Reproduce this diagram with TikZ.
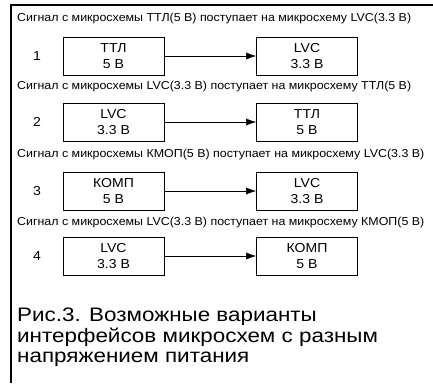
\documentclass[tikz,border=0pt]{standalone}
\usepackage{fontspec}
\setmainfont{Liberation Sans}
\newfontfamily\widefont[FakeStretch=1.08]{Liberation Sans}
\newfontfamily\capfont[FakeStretch=1.15]{Liberation Sans}
\usetikzlibrary{arrows.meta}

\begin{document}
\begin{tikzpicture}[x=1pt, y=1pt, >={Latex[length=10pt,width=7pt]},
  chip/.style={draw, line width=0.8pt, minimum width=101pt, minimum height=38pt,
    inner sep=0pt, align=center, font=\widefont\fontsize{13}{15.5}\selectfont},
  head/.style={anchor=west, inner sep=0pt, font=\widefont\fontsize{11.5}{13}\selectfont},
  num/.style={font=\widefont\fontsize{13}{15}\selectfont}]

\useasboundingbox (0,0) rectangle (433,-383);
\draw[line width=2pt] (11,-383) -- (11,-5) -- (433,-5);

\node[head] (t1) at (17,-19) {Сигнал с микросхемы ТТЛ(5 В) поступает на микросхему LVC(3.3 В)};
\node[num] (k1) at (37,-56) {1};
\node[chip] (a1) at (113.5,-56) {ТТЛ\\5 В};
\node[chip] (b1) at (307,-56) {LVC\\3.3 В};

\node[head] (t2) at (17,-87) {Сигнал с микросхемы LVC(3.3 В) поступает на микросхему ТТЛ(5 В)};
\node[num] (k2) at (37,-122) {2};
\node[chip] (a2) at (113.5,-122) {LVC\\3.3 В};
\node[chip] (b2) at (307,-122) {ТТЛ\\5 В};

\node[head] (t3) at (17,-155) {Сигнал с микросхемы КМОП(5 В) поступает на микросхему LVC(3.3 В)};
\node[num] (k3) at (37,-191) {3};
\node[chip] (a3) at (113.5,-191) {КОМП\\5 В};
\node[chip] (b3) at (307,-191) {LVC\\3.3 В};

\node[head] (t4) at (17,-223) {Сигнал с микросхемы LVC(3.3 В) поступает на микросхему КМОП(5 В)};
\node[num] (k4) at (37,-256) {4};
\node[chip] (a4) at (113.5,-256) {LVC\\3.3 В};
\node[chip] (b4) at (307,-256) {КОМП\\5 В};

\draw (a1) edge[->] (b1);
\draw (a2) edge[->] (b2);
\draw (a3) edge[->] (b3);
\draw (a4) edge[->] (b4);

\node[anchor=north west, align=left, inner sep=0pt,
  font=\capfont\fontsize{19.5}{20.5}\selectfont] (cap) at (17,-308)
  {Рис.3. Возможные варианты\\интерфейсов микросхем с разным\\напряжением питания};

\end{tikzpicture}
\end{document}
